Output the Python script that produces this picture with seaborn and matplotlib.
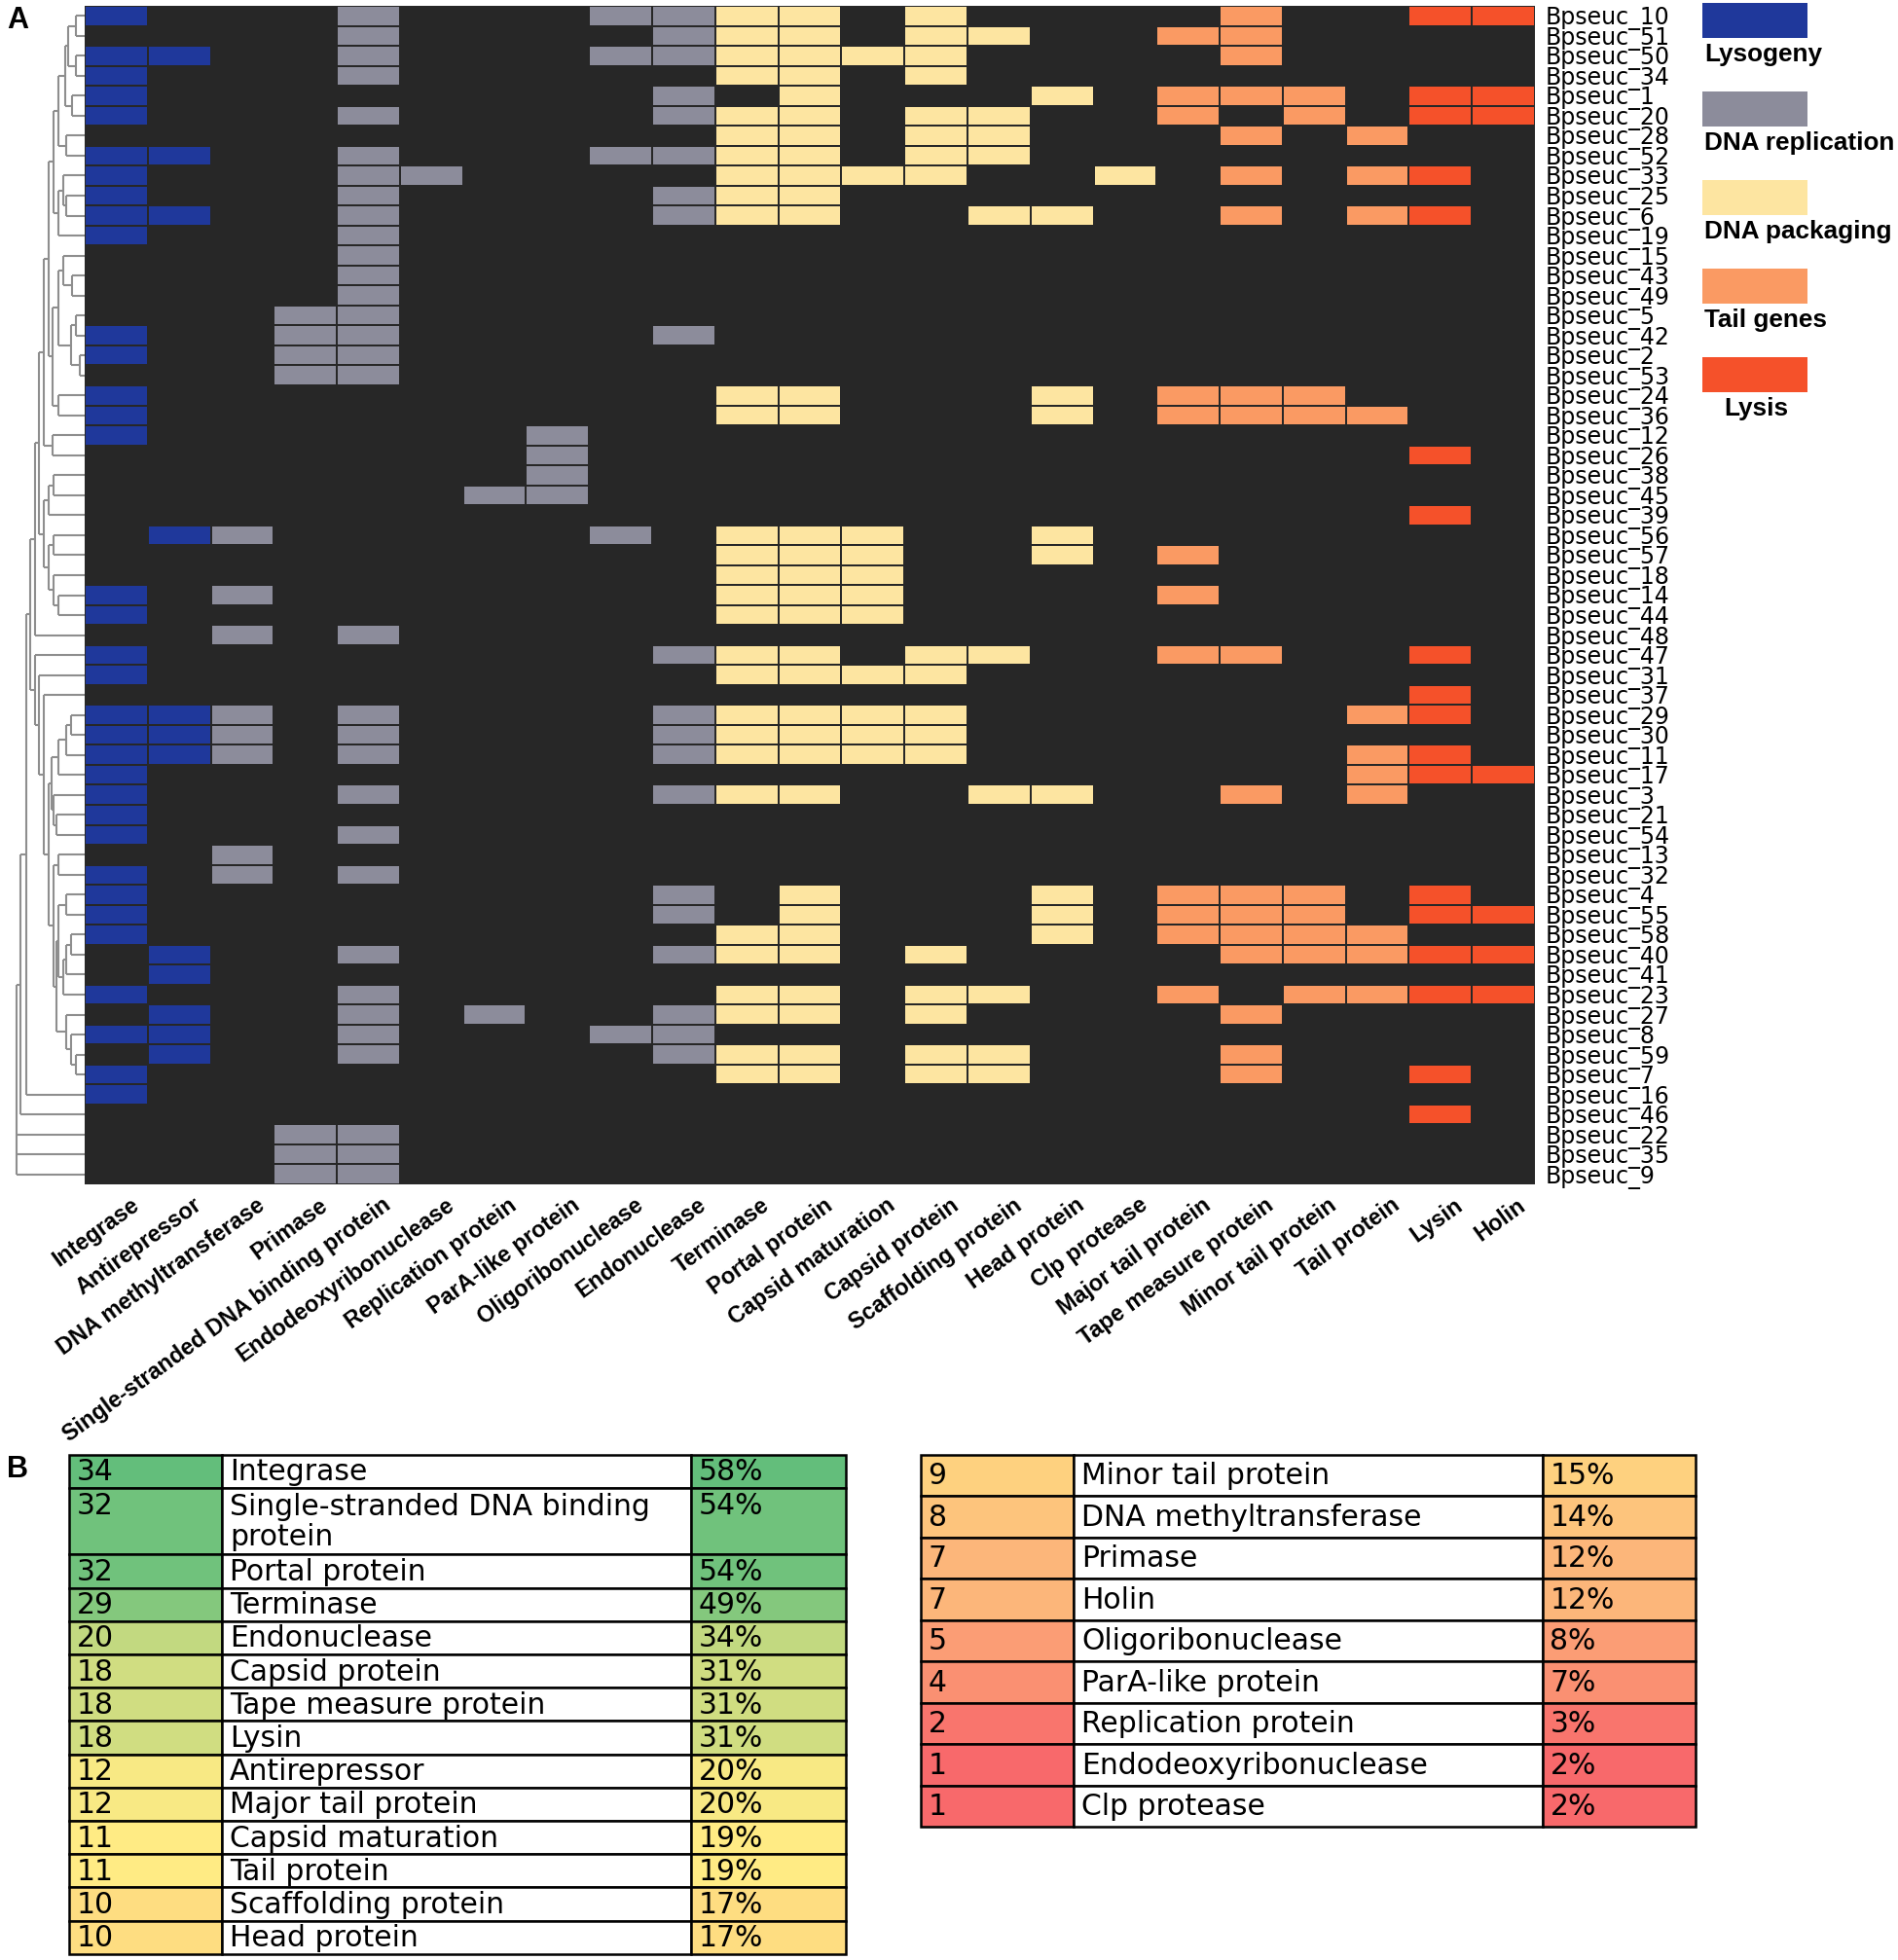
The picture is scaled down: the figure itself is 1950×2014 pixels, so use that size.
import numpy as np
import pandas as pd
import matplotlib
matplotlib.use("Agg")
import matplotlib.pyplot as plt
import matplotlib.transforms as mtransforms
import seaborn as sns
from matplotlib.colors import ListedColormap, LinearSegmentedColormap, Normalize
from matplotlib.patches import Rectangle

# ---------------- data ----------------
genes = ["Integrase", "Antirepressor", "DNA methyltransferase", "Primase",
         "Single-stranded DNA binding protein", "Endodeoxyribonuclease",
         "Replication protein", "ParA-like protein", "Oligoribonuclease",
         "Endonuclease", "Terminase", "Portal protein", "Capsid maturation",
         "Capsid protein", "Scaffolding protein", "Head protein", "Clp protease",
         "Major tail protein", "Tape measure protein", "Minor tail protein",
         "Tail protein", "Lysin", "Holin"]
# 1 lysogeny, 2 DNA replication, 3 DNA packaging, 4 tail genes, 5 lysis
gene_group = [1, 1, 2, 2, 2, 2, 2, 2, 2, 2, 3, 3, 3, 3, 3, 3, 3, 4, 4, 4, 4, 5, 5]
group_names = ["Lysogeny", "DNA replication", "DNA packaging", "Tail genes", "Lysis"]
group_colors = ["#1f389b", "#8c8c9b", "#fde5a1", "#fa9a63", "#f5512a"]
bg_color = "#272727"

phages = ["Bpseuc_10", "Bpseuc_51", "Bpseuc_50", "Bpseuc_34", "Bpseuc_1", "Bpseuc_20",
          "Bpseuc_28", "Bpseuc_52", "Bpseuc_33", "Bpseuc_25", "Bpseuc_6", "Bpseuc_19",
          "Bpseuc_15", "Bpseuc_43", "Bpseuc_49", "Bpseuc_5", "Bpseuc_42", "Bpseuc_2",
          "Bpseuc_53", "Bpseuc_24", "Bpseuc_36", "Bpseuc_12", "Bpseuc_26", "Bpseuc_38",
          "Bpseuc_45", "Bpseuc_39", "Bpseuc_56", "Bpseuc_57", "Bpseuc_18", "Bpseuc_14",
          "Bpseuc_44", "Bpseuc_48", "Bpseuc_47", "Bpseuc_31", "Bpseuc_37", "Bpseuc_29",
          "Bpseuc_30", "Bpseuc_11", "Bpseuc_17", "Bpseuc_3", "Bpseuc_21", "Bpseuc_54",
          "Bpseuc_13", "Bpseuc_32", "Bpseuc_4", "Bpseuc_55", "Bpseuc_58", "Bpseuc_40",
          "Bpseuc_41", "Bpseuc_23", "Bpseuc_27", "Bpseuc_8", "Bpseuc_59", "Bpseuc_7",
          "Bpseuc_16", "Bpseuc_46", "Bpseuc_22", "Bpseuc_35", "Bpseuc_9"]

# gene presence per phage, same column order as `genes` (groups of 5 for reading)
presence = [
    "10001 00011 11010 00010 011",  # 10
    "00001 00001 11011 00110 000",  # 51
    "11001 00011 11110 00010 000",  # 50
    "10001 00000 11010 00000 000",  # 34
    "10000 00001 01000 10111 011",  # 1
    "10001 00001 11011 00101 011",  # 20
    "00000 00000 11011 00010 100",  # 28
    "11001 00011 11011 00000 000",  # 52
    "10001 10000 11110 01010 110",  # 33
    "10001 00001 11000 00000 000",  # 25
    "11001 00001 11001 10010 110",  # 6
    "10001 00000 00000 00000 000",  # 19
    "00001 00000 00000 00000 000",  # 15
    "00001 00000 00000 00000 000",  # 43
    "00001 00000 00000 00000 000",  # 49
    "00011 00000 00000 00000 000",  # 5
    "10011 00001 00000 00000 000",  # 42
    "10011 00000 00000 00000 000",  # 2
    "00011 00000 00000 00000 000",  # 53
    "10000 00000 11000 10111 000",  # 24
    "10000 00000 11000 10111 100",  # 36
    "10000 00100 00000 00000 000",  # 12
    "00000 00100 00000 00000 010",  # 26
    "00000 00100 00000 00000 000",  # 38
    "00000 01100 00000 00000 000",  # 45
    "00000 00000 00000 00000 010",  # 39
    "01100 00010 11100 10000 000",  # 56
    "00000 00000 11100 10100 000",  # 57
    "00000 00000 11100 00000 000",  # 18
    "10100 00000 11100 00100 000",  # 14
    "10000 00000 11100 00000 000",  # 44
    "00101 00000 00000 00000 000",  # 48
    "10000 00001 11011 00110 010",  # 47
    "10000 00000 11110 00000 000",  # 31
    "00000 00000 00000 00000 010",  # 37
    "11101 00001 11110 00000 110",  # 29
    "11101 00001 11110 00000 000",  # 30
    "11101 00001 11110 00000 110",  # 11
    "10000 00000 00000 00000 111",  # 17
    "10001 00001 11001 10010 100",  # 3
    "10000 00000 00000 00000 000",  # 21
    "10001 00000 00000 00000 000",  # 54
    "00100 00000 00000 00000 000",  # 13
    "10101 00000 00000 00000 000",  # 32
    "10000 00001 01000 10111 010",  # 4
    "10000 00001 01000 10111 011",  # 55
    "10000 00000 11000 10111 100",  # 58
    "01001 00001 11010 00011 111",  # 40
    "01000 00000 00000 00000 000",  # 41
    "10001 00000 11011 00101 111",  # 23
    "01001 01001 11010 00010 000",  # 27
    "11001 00011 00000 00000 000",  # 8
    "01001 00001 11011 00010 000",  # 59
    "10000 00000 11011 00010 010",  # 7
    "10000 00000 00000 00000 000",  # 16
    "00000 00000 00000 00000 010",  # 46
    "00011 00000 00000 00000 000",  # 22
    "00011 00000 00000 00000 000",  # 35
    "00011 00000 00000 00000 000",  # 9
]

# dendrogram merges: (node, height, children)
den_merges = [
    ("n01", 9, ["Bpseuc_10", "Bpseuc_51"]),
    ("n23", 9, ["Bpseuc_50", "Bpseuc_34"]),
    ("nA", 17, ["n01", "n23"]),
    ("n45", 13, ["Bpseuc_1", "Bpseuc_20"]),
    ("nB", 20, ["nA", "n45"]),
    ("n67", 19, ["Bpseuc_28", "Bpseuc_52"]),
    ("nC", 27, ["nB", "n67"]),
    ("n9", 19, ["Bpseuc_25", "Bpseuc_6"]),
    ("n8", 22, ["Bpseuc_33", "n9"]),
    ("nD", 27, ["n8", "Bpseuc_19"]),
    ("nE", 32, ["nC", "nD"]),
    ("n13", 13, ["Bpseuc_43", "Bpseuc_49"]),
    ("n12", 22, ["Bpseuc_15", "n13"]),
    ("n15", 9, ["Bpseuc_5", "Bpseuc_42"]),
    ("n17", 5, ["Bpseuc_2", "Bpseuc_53"]),
    ("nF", 14, ["n15", "n17"]),
    ("nG", 27, ["n12", "nF"]),
    ("n19", 27, ["Bpseuc_24", "Bpseuc_36"]),
    ("nPb", 33, ["nG", "n19"]),
    ("nP1", 37, ["nE", "nPb"]),
    ("n21", 33, ["Bpseuc_12", "Bpseuc_26"]),
    ("nP", 42, ["nP1", "n21"]),
    ("n23b", 32, ["Bpseuc_38", "Bpseuc_45"]),
    ("nq1", 37, ["n23b", "Bpseuc_39"]),
    ("n26", 32, ["Bpseuc_56", "Bpseuc_57"]),
    ("n29", 27, ["Bpseuc_14", "Bpseuc_44"]),
    ("n28", 32, ["Bpseuc_18", "n29"]),
    ("nq2", 37, ["n26", "n28"]),
    ("nQ", 42, ["nq1", "nq2"]),
    ("nX", 47, ["nP", "nQ"]),
    ("nT4", 51, ["nX", "Bpseuc_48"]),
    ("va", 14, ["Bpseuc_29", "Bpseuc_30"]),
    ("vb", 19, ["va", "Bpseuc_11"]),
    ("vc", 27, ["vb", "Bpseuc_17"]),
    ("ve", 29, ["Bpseuc_21", "Bpseuc_54"]),
    ("vd", 32, ["Bpseuc_3", "ve"]),
    ("nV1", 34, ["vc", "vd"]),
    ("wa", 27, ["Bpseuc_13", "Bpseuc_32"]),
    ("wb", 19, ["Bpseuc_4", "Bpseuc_55"]),
    ("wc", 14, ["Bpseuc_58", "Bpseuc_40"]),
    ("wd", 19, ["wc", "Bpseuc_41"]),
    ("we", 22, ["wd", "Bpseuc_23"]),
    ("wf", 27, ["wb", "we"]),
    ("wg", 9, ["Bpseuc_59", "Bpseuc_7"]),
    ("wh", 14, ["Bpseuc_8", "wg"]),
    ("wi", 19, ["Bpseuc_27", "wh"]),
    ("wj", 29, ["wf", "wi"]),
    ("nV2", 32, ["wa", "wj"]),
    ("nW", 37, ["nV1", "nV2"]),
    ("nZ", 42, ["Bpseuc_37", "nW"]),
    ("nY", 47, ["Bpseuc_31", "nZ"]),
    ("nT5", 51, ["Bpseuc_47", "nY"]),
    ("nT3", 56, ["nT4", "nT5"]),
    ("nT2", 60, ["nT3", "Bpseuc_16"]),
    ("nT1", 66, ["nT2", "Bpseuc_46"]),
    ("root", 70, ["nT1", "Bpseuc_22", "Bpseuc_35", "Bpseuc_9"]),
]

# panel B tables
table_left_genes = ["Integrase", "Single-stranded DNA binding\nprotein", "Portal protein",
                    "Terminase", "Endonuclease", "Capsid protein", "Tape measure protein",
                    "Lysin", "Antirepressor", "Major tail protein", "Capsid maturation",
                    "Tail protein", "Scaffolding protein", "Head protein"]
table_left_counts = [34, 32, 32, 29, 20, 18, 18, 18, 12, 12, 11, 11, 10, 10]
table_right_genes = ["Minor tail protein", "DNA methyltransferase", "Primase", "Holin",
                     "Oligoribonuclease", "ParA-like protein", "Replication protein",
                     "Endodeoxyribonuclease", "Clp protease"]
table_right_counts = [9, 8, 7, 7, 5, 4, 2, 1, 1]
n_phages = len(phages)

# ---------------- figure ----------------
W, H = 1950, 2014
plt.rcParams["font.family"] = ["DejaVu Sans"]
fig = plt.figure(figsize=(W / 100, H / 100), dpi=100)

def px_axes(x0, y0, x1, y1):
    return fig.add_axes([x0 / W, 1 - y1 / H, (x1 - x0) / W, (y1 - y0) / H])

# overlay for legend, letters and tables (pixel coordinates)
ov = fig.add_axes([0, 0, 1, 1])
ov.set_xlim(0, W)
ov.set_ylim(H, 0)
ov.axis("off")

# heatmap
ax_hm = px_axes(87, 6, 1577, 1217)
mat = np.array([[int(ch) for ch in s.replace(" ", "")] for s in presence])
codes = mat * np.array(gene_group)
df = pd.DataFrame(codes, index=phages, columns=genes)
cmap = ListedColormap([bg_color] + group_colors)
sns.heatmap(df, ax=ax_hm, cmap=cmap, vmin=-0.5, vmax=5.5, cbar=False,
            linewidths=1.3, linecolor=bg_color, xticklabels=True, yticklabels=True)
ax_hm.yaxis.tick_right()
ax_hm.tick_params(axis="y", length=0, pad=8, labelsize=17, rotation=0)
ax_hm.tick_params(axis="x", length=0, pad=7)
for lab in ax_hm.get_yticklabels():
    lab.set_fontfamily("DejaVu Sans")
offset = mtransforms.ScaledTranslation(0.14, 0, fig.dpi_scale_trans)
for lab in ax_hm.get_xticklabels():
    lab.set_rotation(36)
    lab.set_ha("right")
    lab.set_rotation_mode("anchor")
    lab.set_fontsize(16.8)
    lab.set_fontweight("bold")
    lab.set_fontfamily("Liberation Sans")
    lab.set_transform(lab.get_transform() + offset)
ax_hm.set_xlabel("")
ax_hm.set_ylabel("")

# dendrogram
ax_den = px_axes(15, 6, 87, 1217)
ypos = {name: i + 0.5 for i, name in enumerate(phages)}
hpos = {name: 0.0 for name in phages}
line_kw = dict(color="#8e8e8e", lw=1.5, solid_capstyle="butt")
for node, h, kids in den_merges:
    ys = [ypos[k] for k in kids]
    for k in kids:
        ax_den.plot([hpos[k], h], [ypos[k], ypos[k]], **line_kw)
    ax_den.plot([h, h], [min(ys), max(ys)], **line_kw)
    ypos[node] = (min(ys) + max(ys)) / 2
    hpos[node] = h
ax_den.set_xlim(72, 0)
ax_den.set_ylim(n_phages, 0)
ax_den.axis("off")

# legend
label_dx = [0, 0, 0, 0, 20]
for i, (name, col) in enumerate(zip(group_names, group_colors)):
    top = 3 + 91 * i
    ov.add_patch(Rectangle((1749, top), 108, 36, facecolor=col, edgecolor="none"))
    ov.text(1751 + label_dx[i], top + 53, name, fontsize=18.8, fontweight="bold",
            family="Liberation Sans", va="center", ha="left")

# panel letters
ov.text(7, 6, "A", fontsize=22, fontweight="bold", family="Liberation Sans", va="top")
ov.text(7, 1495, "B", fontsize=22, fontweight="bold", family="Liberation Sans", va="top")

# table colour scale (green - yellow - red, midpoint at median)
all_counts = np.array(table_left_counts + table_right_counts)
vmin, vmid, vmax = all_counts.min(), np.percentile(all_counts, 50), all_counts.max()
tab_cmap = LinearSegmentedColormap.from_list(
    "excel", [(0.0, "#F8696B"), ((vmid - vmin) / (vmax - vmin), "#FFEB84"), (1.0, "#63BE7B")])
tab_norm = Normalize(vmin, vmax)


def draw_table(x0, y0, col_w, row_h, names, counts, fs):
    y = y0
    for name, c in zip(names, counts):
        units = name.count("\n") + 1
        h = row_h * units
        fill = tab_cmap(tab_norm(c))
        pct = int(c / n_phages * 100 + 0.5)
        cells = [(str(c), fill), (name, "white"), (f"{pct}%", fill)]
        x = x0
        for (txt, fc), w in zip(cells, col_w):
            ov.add_patch(Rectangle((x, y), w, h, facecolor=fc, edgecolor="black", lw=1.8))
            if "\n" in txt:
                ov.text(x + 8, y + h / 2 + 1, txt, fontsize=fs, va="center", ha="left",
                        linespacing=1.1)
            else:
                ov.text(x + 8, y + row_h / 2 + 1, txt, fontsize=fs, va="center", ha="left")
            x += w
        y += h


draw_table(70.6, 1494.7, [157.4, 481.5, 159.1], 34.2,
           table_left_genes, table_left_counts, 21.5)
draw_table(945.6, 1494.7, [157.8, 481.1, 157.8], 42.5,
           table_right_genes, table_right_counts, 21.5)

fig.savefig("out.png", dpi=100)
